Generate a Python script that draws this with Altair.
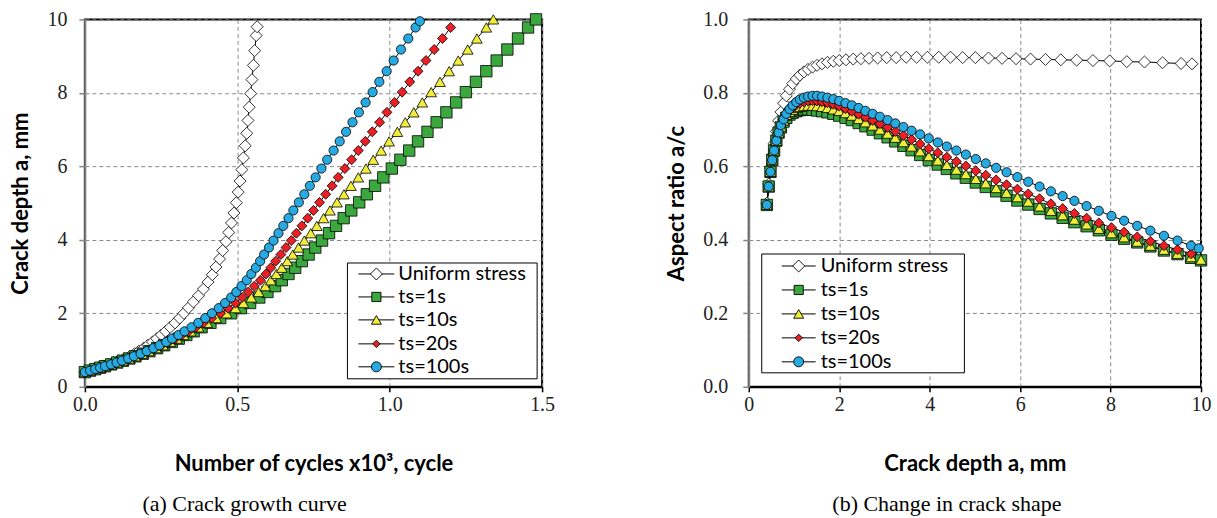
import altair as alt
import pandas as pd

SERIES = ["Uniform stress", "ts=1s", "ts=10s", "ts=20s", "ts=100s"]
FILLS = ["#ffffff", "#3aa83c", "#f0ee3a", "#ec2024", "#27a9e1"]
SHAPES = ["diamond", "square", "triangle-up", "diamond", "circle"]
SIZES = [145, 85, 100, 55, 100]

# crack depth a (mm) grid for the uniform-stress series
A_UNIFORM = [0.40, 0.44, 0.48, 0.52, 0.56, 0.61, 0.66, 0.71, 0.77, 0.83,
             0.90, 0.97, 1.05, 1.13, 1.22, 1.31, 1.41, 1.51, 1.62, 1.74,
             1.87, 2.00, 2.15, 2.31, 2.48, 2.66, 2.85, 3.05, 3.26, 3.48,
             3.71, 3.95, 4.20, 4.46, 4.73, 5.01, 5.30, 5.60, 5.91, 6.23,
             6.56, 6.90, 7.25, 7.61, 7.98, 8.36, 8.75, 9.15, 9.56, 9.80]
N_UNIFORM = [0.000, 0.016, 0.031, 0.046, 0.061, 0.078, 0.094, 0.110, 0.129, 0.147,
             0.163, 0.177, 0.193, 0.207, 0.222, 0.236, 0.251, 0.265, 0.280, 0.296,
             0.311, 0.325, 0.340, 0.356, 0.373, 0.389, 0.404, 0.418, 0.430, 0.442,
             0.452, 0.463, 0.472, 0.481, 0.489, 0.497, 0.503, 0.509, 0.515, 0.520,
             0.526, 0.531, 0.535, 0.539, 0.544, 0.548, 0.553, 0.557, 0.562, 0.565]
R_UNIFORM = [0.500, 0.552, 0.595, 0.630, 0.662, 0.695, 0.724, 0.748, 0.772, 0.792,
             0.810, 0.825, 0.838, 0.848, 0.857, 0.864, 0.870, 0.875, 0.879, 0.883,
             0.886, 0.888, 0.890, 0.892, 0.893, 0.894, 0.895, 0.896, 0.896, 0.897,
             0.897, 0.897, 0.897, 0.897, 0.896, 0.896, 0.895, 0.894, 0.893, 0.892,
             0.891, 0.890, 0.889, 0.888, 0.887, 0.885, 0.884, 0.882, 0.880, 0.879]

# crack depth a (mm) grid for the ts series
A_TS = [0.40, 0.44, 0.48, 0.52, 0.56, 0.61, 0.66, 0.71, 0.77, 0.83,
        0.90, 0.97, 1.05, 1.13, 1.22, 1.31, 1.41, 1.51, 1.62, 1.74,
        1.87, 2.00, 2.14, 2.28, 2.43, 2.58, 2.74, 2.90, 3.07, 3.24,
        3.42, 3.60, 3.79, 3.98, 4.18, 4.38, 4.59, 4.80, 5.02, 5.24,
        5.47, 5.70, 5.94, 6.18, 6.43, 6.68, 6.94, 7.20, 7.47, 7.74,
        8.02, 8.30, 8.59, 8.88, 9.18, 9.48, 9.78, 10.00]
A_100 = A_TS[:57] + [9.95]

N_1S = [0.000, 0.017, 0.034, 0.050, 0.066, 0.086, 0.106, 0.125, 0.146, 0.166,
        0.190, 0.212, 0.237, 0.260, 0.285, 0.308, 0.333, 0.357, 0.383, 0.412,
        0.444, 0.480, 0.512, 0.542, 0.572, 0.599, 0.624, 0.646, 0.668, 0.690,
        0.712, 0.734, 0.756, 0.778, 0.801, 0.824, 0.849, 0.874, 0.900, 0.925,
        0.952, 0.979, 1.007, 1.035, 1.064, 1.093, 1.124, 1.154, 1.186, 1.218,
        1.250, 1.283, 1.317, 1.351, 1.386, 1.421, 1.454, 1.480]
N_10S = [0.000, 0.017, 0.034, 0.050, 0.066, 0.086, 0.105, 0.124, 0.145, 0.165,
         0.188, 0.210, 0.234, 0.256, 0.280, 0.302, 0.324, 0.347, 0.373, 0.401,
         0.431, 0.465, 0.494, 0.520, 0.546, 0.570, 0.592, 0.610, 0.628, 0.646,
         0.664, 0.682, 0.701, 0.720, 0.741, 0.761, 0.783, 0.804, 0.827, 0.850,
         0.873, 0.897, 0.922, 0.946, 0.972, 0.998, 1.025, 1.051, 1.079, 1.107,
         1.136, 1.165, 1.195, 1.225, 1.256, 1.286, 1.317, 1.340]
N_20S = [0.000, 0.017, 0.034, 0.050, 0.066, 0.086, 0.105, 0.123, 0.144, 0.163,
         0.186, 0.207, 0.230, 0.251, 0.275, 0.296, 0.318, 0.340, 0.364, 0.389,
         0.416, 0.445, 0.470, 0.494, 0.516, 0.536, 0.556, 0.576, 0.594, 0.610,
         0.626, 0.643, 0.660, 0.677, 0.694, 0.712, 0.731, 0.750, 0.770, 0.790,
         0.811, 0.831, 0.853, 0.875, 0.897, 0.920, 0.943, 0.967, 0.991, 1.016,
         1.041, 1.066, 1.093, 1.119, 1.146, 1.173, 1.200]
N_100S = [0.000, 0.017, 0.034, 0.050, 0.066, 0.086, 0.104, 0.122, 0.142, 0.161,
          0.183, 0.203, 0.225, 0.245, 0.267, 0.286, 0.307, 0.327, 0.350, 0.372,
          0.395, 0.417, 0.439, 0.460, 0.480, 0.497, 0.514, 0.531, 0.546, 0.561,
          0.575, 0.588, 0.604, 0.619, 0.635, 0.651, 0.668, 0.684, 0.702, 0.720,
          0.738, 0.757, 0.776, 0.795, 0.816, 0.836, 0.857, 0.878, 0.899, 0.921,
          0.944, 0.966, 0.990, 1.013, 1.037, 1.061, 1.085, 1.099]

R_1S = [0.495, 0.545, 0.585, 0.617, 0.643, 0.670, 0.692, 0.706, 0.722, 0.732,
        0.741, 0.746, 0.750, 0.753, 0.755, 0.755, 0.754, 0.752, 0.750, 0.747,
        0.743, 0.738, 0.732, 0.726, 0.718, 0.709, 0.700, 0.690, 0.679, 0.668,
        0.656, 0.644, 0.631, 0.617, 0.605, 0.593, 0.581, 0.569, 0.556, 0.544,
        0.532, 0.520, 0.507, 0.496, 0.484, 0.472, 0.460, 0.448, 0.437, 0.426,
        0.414, 0.403, 0.393, 0.382, 0.371, 0.361, 0.351, 0.344]
R_10S = [0.495, 0.545, 0.585, 0.617, 0.643, 0.670, 0.692, 0.708, 0.725, 0.740,
         0.748, 0.754, 0.759, 0.762, 0.764, 0.765, 0.765, 0.764, 0.762, 0.759,
         0.755, 0.751, 0.745, 0.738, 0.729, 0.720, 0.711, 0.700, 0.689, 0.678,
         0.666, 0.654, 0.641, 0.628, 0.616, 0.604, 0.591, 0.579, 0.566, 0.554,
         0.541, 0.528, 0.516, 0.504, 0.491, 0.479, 0.467, 0.455, 0.442, 0.430,
         0.418, 0.407, 0.395, 0.384, 0.373, 0.362, 0.353, 0.346]
R_20S = [0.495, 0.545, 0.585, 0.617, 0.643, 0.670, 0.692, 0.710, 0.727, 0.741,
         0.752, 0.760, 0.767, 0.772, 0.776, 0.778, 0.779, 0.778, 0.776, 0.773,
         0.769, 0.764, 0.757, 0.750, 0.742, 0.734, 0.725, 0.716, 0.706, 0.695,
         0.684, 0.673, 0.661, 0.648, 0.637, 0.625, 0.613, 0.601, 0.588, 0.576,
         0.563, 0.550, 0.538, 0.525, 0.512, 0.498, 0.485, 0.472, 0.459, 0.446,
         0.433, 0.421, 0.408, 0.396, 0.384, 0.373, 0.362]
R_100S = [0.495, 0.545, 0.585, 0.617, 0.643, 0.670, 0.692, 0.712, 0.728, 0.743,
          0.756, 0.766, 0.775, 0.782, 0.787, 0.790, 0.792, 0.792, 0.790, 0.787,
          0.783, 0.778, 0.772, 0.766, 0.759, 0.751, 0.743, 0.735, 0.726, 0.717,
          0.707, 0.697, 0.687, 0.676, 0.665, 0.654, 0.643, 0.632, 0.620, 0.608,
          0.596, 0.584, 0.571, 0.558, 0.545, 0.532, 0.519, 0.506, 0.492, 0.479,
          0.465, 0.452, 0.438, 0.425, 0.411, 0.398, 0.384, 0.377]

rows = []
for idx, (name, av, nv, rv) in enumerate([
    ("Uniform stress", A_UNIFORM, N_UNIFORM, R_UNIFORM),
    ("ts=1s", A_TS, N_1S, R_1S),
    ("ts=10s", A_TS, N_10S, R_10S),
    ("ts=20s", A_TS, N_20S, R_20S),
    ("ts=100s", A_100, N_100S, R_100S),
]):
    for a, n, r in zip(av, nv, rv):
        rows.append({"series": name, "idx": idx, "a": a, "N": n, "ratio": r})
df = pd.DataFrame(rows)

SERIF = "Liberation Serif"
SANS = "Lato"
ONE = pd.DataFrame({"k": [0]})


def make_axis(values, fmt, title, is_x, title_pad, label_pad):
    return alt.Axis(
        values=values, format=fmt, title=title, grid=True,
        gridDash=[4, 3], gridColor="#8a8a8a", gridWidth=1,
        domainColor="black" if is_x else "#858585", domainWidth=2,
        tickColor="black" if is_x else "#858585", tickSize=5 if is_x else 6,
        tickWidth=1.5, labelFlush=False, labelOverlap=False,
        labelFont=SERIF, labelFontSize=20, labelColor="#222222",
        labelPadding=label_pad,
        titleFont=SANS, titleFontWeight="bold", titleFontSize=22,
        titleColor="black", titlePadding=title_pad,
    )


def legend_layers(box, line_x, text_x, rows_y):
    """Excel-style legend box drawn inside the plot area (pixel positions)."""
    x0, x1, y0, y1 = box
    layers = [
        alt.Chart(ONE).mark_rect(fill="white", stroke="black", strokeWidth=1).encode(
            x=alt.value(x0), x2=alt.value(x1), y=alt.value(y0), y2=alt.value(y1))
    ]
    lx0, lx1 = line_x
    for name, fill, shape, size, yy in zip(SERIES, FILLS, SHAPES, SIZES, rows_y):
        layers.append(alt.Chart(ONE).mark_rule(color="black", strokeWidth=1).encode(
            x=alt.value(lx0), x2=alt.value(lx1), y=alt.value(yy)))
        layers.append(alt.Chart(ONE).mark_point(
            filled=True, fill=fill, stroke="black", strokeWidth=0.9, opacity=1,
            shape=shape, size=size).encode(x=alt.value((lx0 + lx1) / 2), y=alt.value(yy)))
        layers.append(alt.Chart(ONE).mark_text(
            align="left", baseline="middle", font=SANS, fontSize=20, color="black").encode(
            x=alt.value(text_x), y=alt.value(yy), text=alt.value(name)))
    return layers


def panel(xf, yf, xdom, ydom, xaxis, yaxis, w, legend, caption, cdx):
    base = alt.Chart(df)
    x = alt.X(f"{xf}:Q", scale=alt.Scale(domain=xdom, nice=False, zero=False), axis=xaxis)
    y = alt.Y(f"{yf}:Q", scale=alt.Scale(domain=ydom, nice=False, zero=False), axis=yaxis)
    lines = base.mark_line(color="black", strokeWidth=1).encode(
        x=x, y=y, detail="series:N", order="a:Q")
    pts = base.mark_point(filled=True, stroke="black", strokeWidth=0.8, opacity=1).encode(
        x=x, y=y,
        fill=alt.Fill("series:N", scale=alt.Scale(domain=SERIES, range=FILLS), legend=None),
        shape=alt.Shape("series:N", scale=alt.Scale(domain=SERIES, range=SHAPES), legend=None),
        size=alt.Size("series:N", scale=alt.Scale(domain=SERIES, range=SIZES), legend=None),
        order=alt.Order("idx:Q"),
    )
    return alt.layer(lines, pts, *legend_layers(*legend)).properties(
        width=w, height=368,
        title=alt.TitleParams(
            text=caption, orient="bottom", anchor="middle", font=SERIF,
            fontSize=22, fontWeight="normal", color="black", offset=19, dx=cdx),
    )


left = panel(
    "N", "a", [0, 1.5], [0, 10],
    make_axis([0, 0.5, 1.0, 1.5], ".1f", "Number of cycles x10³, cycle", True, 39, 3),
    make_axis([0, 2, 4, 6, 8, 10], "d", "Crack depth a, mm", False, 14, 12),
    458,
    ((263, 453, 244, 360), (274, 310), 314, [255, 278, 301, 325, 348]),
    "(a) Crack growth curve", -69,
)
right = panel(
    "a", "ratio", [0, 10], [0, 1.0],
    make_axis([0, 2, 4, 6, 8, 10], "d", "Crack depth a, mm", True, 39, 3),
    make_axis([0, 0.2, 0.4, 0.6, 0.8, 1.0], ".1f", "Aspect ratio a/c", False, 14, 15),
    453,
    ((13, 216, 235, 354), (33, 67), 72, [247, 271, 295, 319, 343]),
    "(b) Change in crack shape", -28,
)

chart = alt.hconcat(left, right, spacing=109).configure_view(
    stroke="black", strokeWidth=2
).properties(
    padding={"left": 9, "top": 8, "right": 5, "bottom": 2},
    background="white",
)

chart.save("out.html", embed_options={"renderer": "svg", "actions": False})
